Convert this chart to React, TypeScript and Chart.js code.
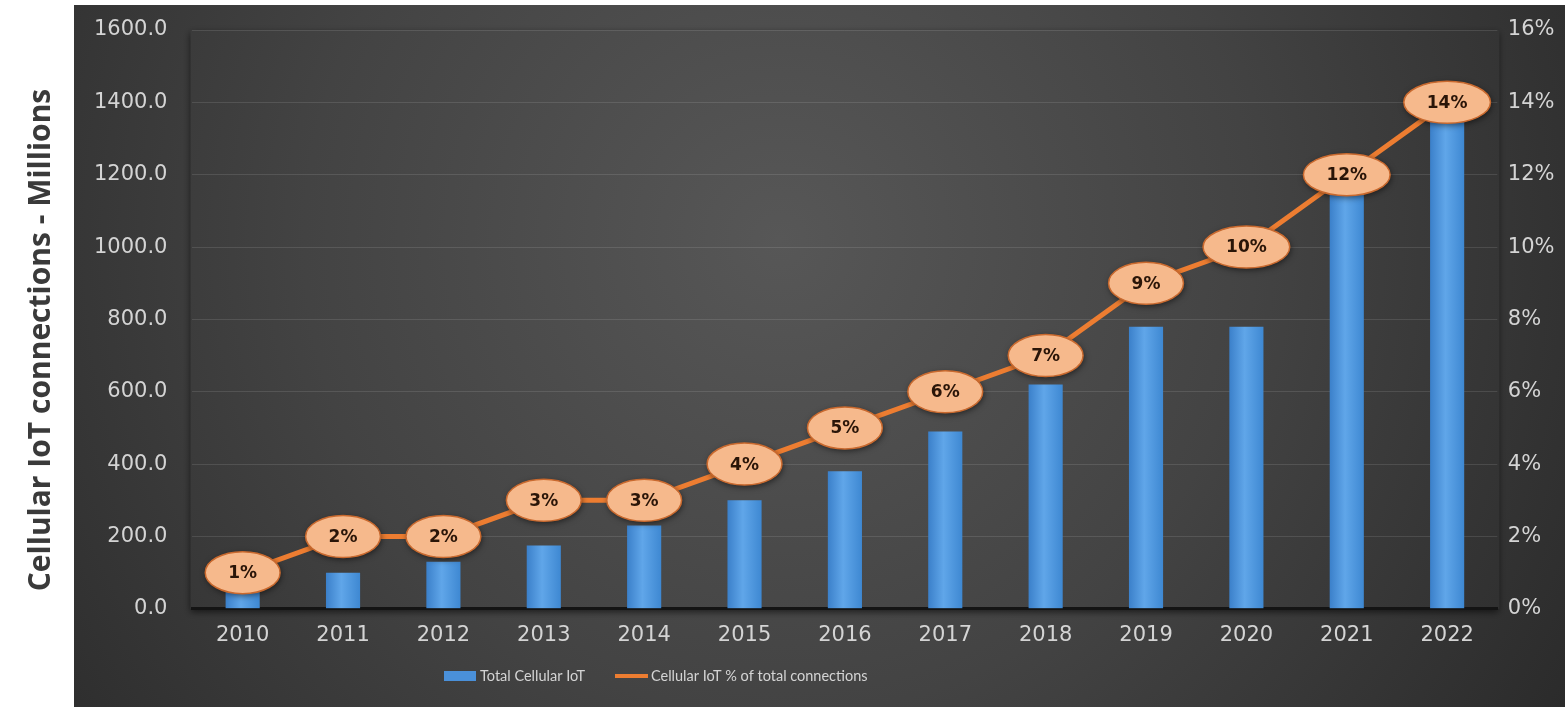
import React, { useEffect, useRef } from 'react';
import { Chart, registerables } from 'chart.js';

Chart.register(...registerables);

// ---- data ----
const years = ['2010', '2011', '2012', '2013', '2014', '2015', '2016', '2017', '2018', '2019', '2020', '2021', '2022'];
const totalCellularIoT = [50, 100, 130, 175, 230, 300, 380, 490, 620, 780, 780, 1150, 1380];
const iotSharePct = [1, 2, 2, 3, 3, 4, 5, 6, 7, 9, 10, 12, 14];
const leftAxisMax = 1600;
const leftAxisStep = 200;
const rightAxisMax = 16;
const rightAxisStep = 2;
const seriesNames = ['Total Cellular IoT', 'Cellular IoT % of total connections'];
const yAxisTitle = 'Cellular IoT connections - Millions';

const TICK_COLOR = '#d4d4d4';
const BAR_COLOR = '#4A90D9';
const LINE_COLOR = '#ED7D31';

function makeBg(ctx: CanvasRenderingContext2D) {
  const g = ctx.createRadialGradient(780, 240, 0, 780, 240, 950);
  g.addColorStop(0, '#575757');
  g.addColorStop(0.5, '#434343');
  g.addColorStop(1, '#292929');
  return g;
}

const backgroundPlugin = {
  id: 'darkBackground',
  beforeDraw(chart: any) {
    const { ctx, width, height, chartArea } = chart;
    ctx.save();
    ctx.fillStyle = '#ffffff';
    ctx.fillRect(0, 0, width, height);
    const bg = makeBg(ctx);
    ctx.fillStyle = bg;
    ctx.fillRect(74, 5, width - 74, height - 5);
    ctx.shadowColor = 'rgba(0,0,0,0.6)';
    ctx.shadowBlur = 7;
    ctx.shadowOffsetX = 0;
    ctx.shadowOffsetY = 3;
    ctx.fillStyle = bg;
    ctx.fillRect(chartArea.left - 2, chartArea.top, chartArea.right - chartArea.left + 4, chartArea.bottom - chartArea.top);
    ctx.restore();
  },
};

// vertical axis title, placed in the white margin on the left
const axisTitlePlugin = {
  id: 'axisTitle',
  afterDraw(chart: any) {
    const ctx = chart.ctx as CanvasRenderingContext2D;
    ctx.save();
    ctx.translate(41, 340);
    ctx.rotate(-Math.PI / 2);
    ctx.font = 'bold 30px "Open Sans"';
    ctx.fillStyle = '#3a3a3a';
    ctx.textAlign = 'center';
    ctx.textBaseline = 'middle';
    ctx.fillText(yAxisTitle, 0, 0);
    ctx.restore();
  },
};

// legend drawn below the axis labels from the datasets' own labels and colours
const LEGEND_FONT = '14.5px Lato';
const customLegendPlugin = {
  id: 'customLegend',
  afterDraw(chart: any) {
    const ctx = chart.ctx as CanvasRenderingContext2D;
    const y = 676;
    let x = 444;
    ctx.save();
    ctx.font = LEGEND_FONT;
    ctx.textBaseline = 'middle';
    ctx.textAlign = 'left';
    chart.data.datasets.forEach((ds: any, i: number) => {
      if (i === 0) {
        ctx.fillStyle = BAR_COLOR;
        ctx.fillRect(x, y - 5, 32, 10);
      } else {
        ctx.strokeStyle = LINE_COLOR;
        ctx.lineWidth = 4;
        ctx.beginPath();
        ctx.moveTo(x, y);
        ctx.lineTo(x + 33, y);
        ctx.stroke();
      }
      ctx.fillStyle = TICK_COLOR;
      ctx.fillText(ds.label, x + 36, y);
      x += 36 + ctx.measureText(ds.label).width + 30;
    });
    ctx.restore();
  },
};

const ellipseLabelPlugin = {
  id: 'ellipseLabels',
  afterDatasetsDraw(chart: any) {
    const meta = chart.getDatasetMeta(1);
    const ctx = chart.ctx as CanvasRenderingContext2D;
    ctx.save();
    ctx.font = 'bold 17px "DejaVu Sans"';
    meta.data.forEach((pt: any, i: number) => {
      const text = iotSharePct[i] + '%';
      const tw = ctx.measureText(text).width;
      const rx = tw / 2 + 23;
      const ry = 21;
      ctx.save();
      ctx.shadowColor = 'rgba(0,0,0,0.55)';
      ctx.shadowBlur = 6;
      ctx.shadowOffsetX = 1;
      ctx.shadowOffsetY = 2;
      ctx.beginPath();
      ctx.ellipse(pt.x, pt.y, rx, ry, 0, 0, Math.PI * 2);
      ctx.fillStyle = '#F6B98C';
      ctx.fill();
      ctx.restore();
      ctx.beginPath();
      ctx.ellipse(pt.x, pt.y, rx, ry, 0, 0, Math.PI * 2);
      ctx.lineWidth = 1.5;
      ctx.strokeStyle = '#C9692E';
      ctx.stroke();
      ctx.fillStyle = '#2a1508';
      ctx.textAlign = 'center';
      ctx.textBaseline = 'middle';
      ctx.fillText(text, pt.x, pt.y + 1);
    });
    ctx.restore();
  },
};

export default function App() {
  const canvasRef = useRef<HTMLCanvasElement | null>(null);

  useEffect(() => {
    document.body.style.margin = '0';
    const canvas = canvasRef.current;
    if (!canvas) return;

    const chart = new Chart(canvas, {
      type: 'bar',
      data: {
        labels: years,
        datasets: [
          {
            type: 'bar',
            label: seriesNames[0],
            data: totalCellularIoT,
            yAxisID: 'y',
            order: 2,
            barPercentage: 0.34,
            categoryPercentage: 1,
            backgroundColor: (c: any) => {
              const el = c.element;
              if (!el || el.x == null || !el.width) return BAR_COLOR;
              const g = c.chart.ctx.createLinearGradient(el.x - el.width / 2, 0, el.x + el.width / 2, 0);
              g.addColorStop(0, '#3B80CA');
              g.addColorStop(0.45, '#60A6E9');
              g.addColorStop(1, '#3E88D2');
              return g;
            },
            borderWidth: 0,
          } as any,
          {
            type: 'line',
            label: seriesNames[1],
            data: iotSharePct,
            yAxisID: 'y1',
            order: 1,
            borderColor: LINE_COLOR,
            backgroundColor: LINE_COLOR,
            borderWidth: 5,
            pointRadius: 0,
            tension: 0,
          } as any,
        ],
      },
      options: {
        animation: false,
        responsive: true,
        maintainAspectRatio: false,
        layout: { padding: { top: 30, right: 0, bottom: 53, left: 89 } },
        scales: {
          x: {
            grid: { display: false },
            border: { display: true, color: '#141414', width: 3 },
            ticks: {
              color: TICK_COLOR,
              padding: 6,
              font: { family: '"DejaVu Sans"', size: 21 },
            },
          },
          y: {
            position: 'left',
            min: 0,
            max: leftAxisMax,
            grid: {
              color: 'rgba(255,255,255,0.11)',
              drawTicks: true,
              tickLength: 20,
              tickColor: 'rgba(0,0,0,0)',
              lineWidth: 1,
            },
            border: { display: false },
            ticks: {
              stepSize: leftAxisStep,
              color: TICK_COLOR,
              padding: 5,
              font: { family: '"DejaVu Sans"', size: 21 },
              callback: (v: any) => Number(v).toFixed(1),
            },
          },
          y1: {
            position: 'right',
            min: 0,
            max: rightAxisMax,
            grid: { drawOnChartArea: false, drawTicks: false },
            border: { display: false },
            ticks: {
              stepSize: rightAxisStep,
              color: TICK_COLOR,
              padding: 10.5,
              font: { family: '"DejaVu Sans"', size: 21 },
              callback: (v: any) => v + '%',
            },
          },
        },
        plugins: {
          tooltip: { enabled: false },
          legend: { display: false },
        },
      } as any,
      plugins: [backgroundPlugin, ellipseLabelPlugin, customLegendPlugin, axisTitlePlugin],
    });
    chart.update();

    return () => chart.destroy();
  }, []);

  return (
    <div style={{ position: 'relative', width: '1565px', height: '707px' }}>
      <canvas ref={canvasRef} />
    </div>
  );
}
